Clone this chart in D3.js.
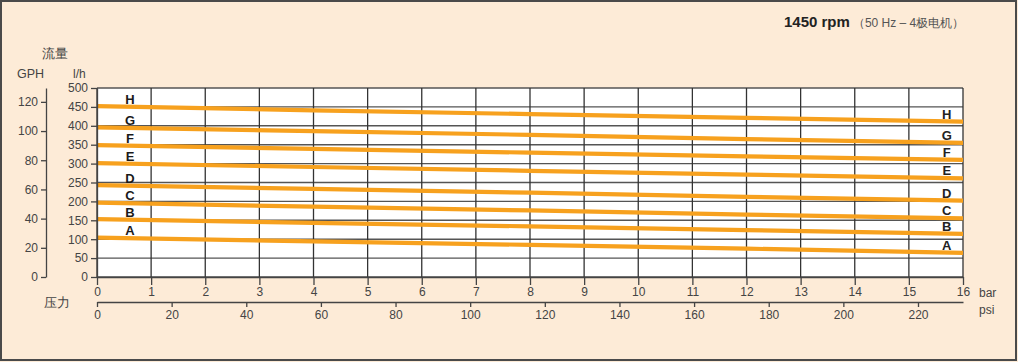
<!DOCTYPE html>
<html>
<head>
<meta charset="utf-8">
<script src="https://cdn.jsdelivr.net/npm/d3@7"></script>
<style>
  body { margin: 0; background: #fdebd7; }
  text { font-family: "Liberation Sans", Arial, sans-serif; }
</style>
</head>
<body>
<script>
// pressure points (bar) where flows were read
var pressures = [0, 4, 8, 12, 16];

// flow curves, l/h
var curveNames = ["H", "G", "F", "E", "D", "C", "B", "A"];
var flowH = [452, 441, 431, 421, 411];
var flowG = [396, 386, 376, 365, 355];
var flowF = [349, 339, 329, 319, 310];
var flowE = [301, 291, 281, 271, 261];
var flowD = [243, 233, 223, 212, 202];
var flowC = [197, 186, 176, 165, 155];
var flowB = [153, 143, 134, 124, 114];
var flowA = [104, 94, 85, 75, 64];
var flows = [flowH, flowG, flowF, flowE, flowD, flowC, flowB, flowA];

// tick labels
var barTicks = d3.range(0, 17);
var lhTicks = [0, 50, 100, 150, 200, 250, 300, 350, 400, 450, 500];
var gphTicks = [0, 20, 40, 60, 80, 100, 120];
var psiTicks = [0, 20, 40, 60, 80, 100, 120, 140, 160, 180, 200, 220];

let w = 1018;
let h = 362;
let plotL = 97, plotR = 963, plotT = 88, plotB = 277;
let psiPerBar = 14.5038;

var svg = d3.select("body")
  .append("svg")
  .attr("width", w)
  .attr("height", h);

// frame
svg.append("rect")
  .attr("x", 1).attr("y", 1)
  .attr("width", w - 3).attr("height", h - 3)
  .attr("fill", "#fdebd7")
  .attr("stroke", "#4a4a4a")
  .attr("stroke-width", 2);

let xScale = d3.scaleLinear().domain([0, 16]).range([plotL, plotR]);
let yScale = d3.scaleLinear().domain([0, 500]).range([plotB, plotT]);
let psiScale = d3.scaleLinear().domain([0, 16 * psiPerBar]).range([plotL, plotR]);
let gphScale = d3.scaleLinear().domain([0, 129.5]).range([plotB, plotT]);

// plot background
svg.append("rect")
  .attr("x", plotL).attr("y", plotT)
  .attr("width", plotR - plotL).attr("height", plotB - plotT)
  .attr("fill", "#fff");

// grid
svg.append("g").selectAll("line")
  .data(lhTicks)
  .enter().append("line")
  .attr("x1", plotL).attr("x2", plotR)
  .attr("y1", d => yScale(d)).attr("y2", d => yScale(d))
  .attr("stroke", "#555")
  .attr("stroke-width", 1.4);

svg.append("g").selectAll("line")
  .data(barTicks)
  .enter().append("line")
  .attr("x1", d => xScale(d)).attr("x2", d => xScale(d))
  .attr("y1", plotT).attr("y2", plotB)
  .attr("stroke", "#333")
  .attr("stroke-width", 1.3);

// curves
var line = d3.line()
  .x((d, i) => xScale(pressures[i]))
  .y(d => yScale(d));

svg.append("g").selectAll("path")
  .data(flows)
  .enter().append("path")
  .attr("d", line)
  .attr("fill", "none")
  .attr("stroke", "#f7a11e")
  .attr("stroke-width", 4.2);

// curve labels, left
svg.append("g").selectAll("text")
  .data(flows)
  .enter().append("text")
  .attr("x", xScale(0.61))
  .attr("y", d => yScale(d[0]) - 2.5)
  .attr("text-anchor", "middle")
  .attr("font-size", "13px")
  .attr("font-weight", 600)
  .attr("fill", "#1a1a1a")
  .text((d, i) => curveNames[i]);

// curve labels, right
svg.append("g").selectAll("text")
  .data(flows)
  .enter().append("text")
  .attr("x", xScale(15.7))
  .attr("y", d => yScale(d[d.length - 1]) - 3)
  .attr("text-anchor", "middle")
  .attr("font-size", "13px")
  .attr("font-weight", "bold")
  .attr("fill", "#222")
  .text((d, i) => curveNames[i]);

function styleAxis(g) {
  g.selectAll("text")
    .attr("font-family", "Liberation Sans, Arial, sans-serif")
    .attr("font-size", "12px")
    .attr("fill", "#444");
  g.selectAll("line, path").attr("stroke", "#444").attr("stroke-width", 1.3);
}

// l/h axis
svg.append("g")
  .attr("transform", "translate(" + plotL + ",0)")
  .call(d3.axisLeft(yScale).tickValues(lhTicks).tickSize(6).tickPadding(3).tickSizeOuter(0))
  .call(styleAxis);

// GPH axis
svg.append("g")
  .attr("transform", "translate(46,0)")
  .call(d3.axisLeft(gphScale).tickValues(gphTicks).tickSize(5).tickPadding(3).tickSizeOuter(0))
  .call(styleAxis);

// bar axis
svg.append("g")
  .attr("transform", "translate(0," + plotB + ")")
  .call(d3.axisBottom(xScale).tickValues(barTicks).tickSize(8).tickPadding(2).tickSizeOuter(0))
  .call(styleAxis);

// psi axis
svg.append("g")
  .attr("transform", "translate(0,302)")
  .call(d3.axisBottom(psiScale).tickValues(psiTicks).tickSize(5).tickPadding(3).tickSizeOuter(0))
  .call(styleAxis);

// titles
function label(x, y, t, size, anchor) {
  svg.append("text")
    .attr("x", x).attr("y", y)
    .attr("font-size", size)
    .attr("fill", "#444")
    .attr("text-anchor", anchor || "start")
    .text(t);
}
label(42, 58, "流量", "13px");
label(17, 78, "GPH", "12.5px");
label(73, 78, "l/h", "12px");
label(44, 307, "压力", "13px");
label(979, 297, "bar", "12px");
label(979, 314, "psi", "12px");

var title = svg.append("text")
  .attr("x", 784).attr("y", 27)
  .attr("fill", "#222");
title.append("tspan")
  .attr("font-size", "15px")
  .attr("font-weight", "bold")
  .text("1450 rpm");
title.append("tspan")
  .attr("dx", 3)
  .attr("font-size", "12px")
  .attr("fill", "#555")
  .text("（50 Hz – 4极电机）");
</script>
</body>
</html>
